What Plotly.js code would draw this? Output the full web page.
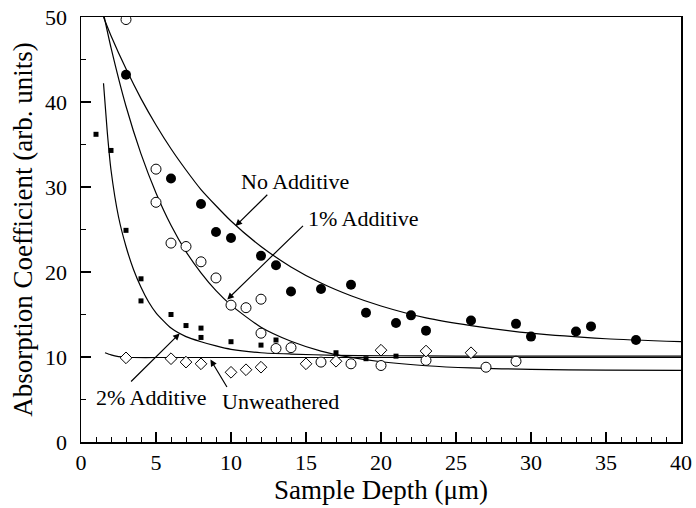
<!DOCTYPE html>
<html>
<head>
<meta charset="utf-8">
<script src="https://cdn.plot.ly/plotly-3.0.1.min.js"></script>
<style>html,body{margin:0;padding:0;background:#fff;}#chart{width:696px;height:508px;}</style>
</head>
<body>
<div id="chart"></div>
<script>
// ---- Data ----
// No Additive (filled circles)
const noAddX = [3, 6, 8, 9, 10, 12, 13, 14, 16, 18, 19, 21, 22, 23, 26, 29, 30, 33, 34, 37];
const noAddY = [43.2, 31.0, 28.0, 24.7, 24.0, 21.9, 20.8, 17.7, 18.0, 18.5, 15.2, 14.0, 14.9, 13.1, 14.3, 13.9, 12.4, 13.0, 13.6, 12.0];
// 1% Additive (open circles)
const oneAddX = [3, 5, 5, 6, 7, 8, 9, 10, 11, 12, 12, 13, 14, 16, 18, 20, 23, 27, 29];
const oneAddY = [49.7, 32.1, 28.2, 23.4, 23.0, 21.2, 19.3, 16.1, 15.8, 16.8, 12.8, 11.0, 11.1, 9.4, 9.2, 9.0, 9.6, 8.8, 9.5];
// 2% Additive (small filled squares)
const twoAddX = [1, 2, 3, 4, 4, 6, 7, 8, 8, 10, 12, 13, 17, 19, 21];
const twoAddY = [36.2, 34.3, 24.9, 19.2, 16.6, 15.0, 13.7, 13.4, 12.3, 11.8, 11.4, 12.0, 10.5, 9.8, 10.1];
// Unweathered (open diamonds)
const unwX = [3, 6, 7, 8, 10, 11, 12, 15, 17, 20, 23, 26];
const unwY = [9.9, 9.8, 9.4, 9.2, 8.2, 8.5, 8.8, 9.2, 9.5, 10.8, 10.7, 10.5];

// Fitted curves, points
const noAddCurveX = [1.5, 2, 3, 4, 5, 6, 7, 8, 10, 12, 14, 16, 18, 20, 23, 26, 30, 35, 40];
const noAddCurveY = [50.0, 47.8, 43.9, 40.4, 37.3, 34.5, 32.0, 29.7, 26.0, 23.0, 20.6, 18.7, 17.2, 16.0, 14.6, 13.7, 12.8, 12.15, 11.8];
const oneAddCurveX = [1.55, 2, 3, 4, 5, 6, 7, 8, 9, 10, 12, 14, 16, 18, 20, 23, 26, 30, 35, 40];
const oneAddCurveY = [50.0, 46.4, 39.5, 33.9, 29.3, 25.5, 22.4, 19.9, 17.8, 16.1, 13.5, 11.85, 10.7, 9.95, 9.44, 8.97, 8.71, 8.54, 8.45, 8.42];
const twoAddCurveX = [1.5, 1.75, 2, 2.5, 3, 3.5, 4, 4.5, 5, 6, 7, 8, 9, 10, 12, 14, 17, 20, 25, 30, 40];
const twoAddCurveY = [42.2, 36.5, 32.0, 26.5, 23.0, 20.3, 18.2, 16.5, 15.2, 13.4, 12.4, 11.8, 11.3, 10.9, 10.5, 10.35, 10.2, 10.15, 10.1, 10.1, 10.1];
const unwCurveX = [1.6, 2, 2.5, 3, 3.5, 5, 10, 20, 30, 40];
const unwCurveY = [10.5, 10.25, 10.05, 9.97, 9.94, 9.94, 9.94, 9.94, 9.94, 9.94];

const xTicks = [0, 5, 10, 15, 20, 25, 30, 35, 40];
const yTicks = [0, 10, 20, 30, 40, 50];

const FONT = 'Liberation Serif, Times New Roman, serif';

function curve(x, y) {
  return {x: x, y: y, mode: 'lines', type: 'scatter', line: {color: '#000', width: 1.2, shape: 'spline', smoothing: 0.6}, hoverinfo: 'skip', showlegend: false};
}

const traces = [
  curve(noAddCurveX, noAddCurveY),
  curve(oneAddCurveX, oneAddCurveY),
  curve(twoAddCurveX, twoAddCurveY),
  curve(unwCurveX, unwCurveY),
  {x: noAddX, y: noAddY, mode: 'markers', type: 'scatter', name: 'No Additive', showlegend: false,
   marker: {symbol: 'circle', size: 10, color: '#000'}},
  {x: oneAddX, y: oneAddY, mode: 'markers', type: 'scatter', name: '1% Additive', showlegend: false,
   marker: {symbol: 'circle', size: 10, color: '#fff', line: {color: '#000', width: 1}}},
  {x: twoAddX, y: twoAddY, mode: 'markers', type: 'scatter', name: '2% Additive', showlegend: false,
   marker: {symbol: 'square', size: 5, color: '#000'}},
  {x: unwX, y: unwY, mode: 'markers', type: 'scatter', name: 'Unweathered', showlegend: false,
   marker: {symbol: 'diamond', size: 9, color: '#fff', line: {color: '#000', width: 1}}}
];

function label(text, x, y) {
  return {text: text, x: x, y: y, xref: 'x', yref: 'y', showarrow: false, font: {family: FONT, size: 22, color: '#000'}};
}
function arrow(tipX, tipY, tailX, tailY) {
  return {text: '', x: tipX, y: tipY, ax: tailX, ay: tailY, xref: 'x', yref: 'y', axref: 'x', ayref: 'y',
          showarrow: true, arrowhead: 2, arrowsize: 1.1, arrowwidth: 1.2, arrowcolor: '#000', standoff: 0};
}

const layout = {
  width: 696, height: 508,
  margin: {l: 81, r: 15, t: 17, b: 66},
  paper_bgcolor: '#fff', plot_bgcolor: '#fff',
  font: {family: FONT, color: '#000', size: 22},
  showlegend: false,
  xaxis: {
    range: [0, 40], tickvals: xTicks, ticktext: xTicks.map(String),
    ticks: 'inside', ticklen: 10, tickwidth: 1.2, tickcolor: '#000',
    minor: {dtick: 1, ticks: 'inside', ticklen: 5, tickwidth: 1, tickcolor: '#000'},
    showline: true, linecolor: '#000', linewidth: 1.5, mirror: true,
    showgrid: false, zeroline: false,
    tickfont: {family: FONT, size: 22, color: '#000'},
    title: {text: 'Sample Depth (μm)', font: {family: FONT, size: 27, color: '#000'}, standoff: 4}
  },
  yaxis: {
    range: [0, 50], tickvals: yTicks, ticktext: yTicks.map(String),
    ticks: 'inside', ticklen: 10, tickwidth: 1.2, tickcolor: '#000',
    minor: {dtick: 5, ticks: 'inside', ticklen: 5, tickwidth: 1, tickcolor: '#000'},
    showline: true, linecolor: '#000', linewidth: 1.5, mirror: true,
    showgrid: false, zeroline: false, ticklabelstandoff: 8,
    tickfont: {family: FONT, size: 22, color: '#000'},
    title: {text: 'Absorption Coefficient (arb. units)', font: {family: FONT, size: 27, color: '#000'}, standoff: 4}
  },
  annotations: [
    label('No Additive', 14.24, 30.6),
    label('1% Additive', 18.85, 26.35),
    label('2% Additive', 4.69, 5.18),
    label('Unweathered', 13.27, 4.71),
    arrow(10.3, 25.4, 12.52, 29.26),
    arrow(9.75, 16.77, 14.9, 25.6),
    arrow(6.58, 12.77, 3.24, 6.95),
    arrow(8.63, 9.7, 9.79, 6.29)
  ]
};

Plotly.newPlot('chart', traces, layout, {staticPlot: true, displayModeBar: false});
</script>
</body>
</html>
